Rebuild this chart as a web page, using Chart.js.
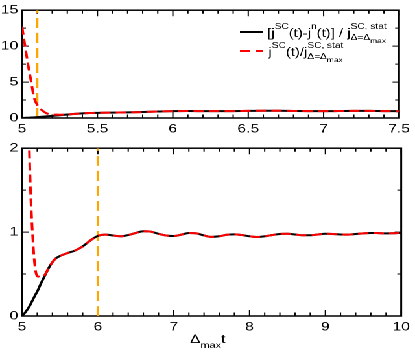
<!DOCTYPE html>
<html>
<head>
<meta charset="utf-8">
<script src="https://cdn.jsdelivr.net/npm/chart.js@4.4.0/dist/chart.umd.min.js"></script>
<style>
  html, body { margin: 0; padding: 0; background: #fff; overflow: hidden; }
  /* the original figure is stretched horizontally, so draw narrow and widen */
  #wrap { position: relative; width: 320px; height: 354px; transform: scaleX(1.297); transform-origin: 0 0; }
  .panel { position: absolute; left: 0; width: 320px; }
  #top { top: 0; height: 140px; }
  #bottom { top: 138px; height: 216px; }
</style>
</head>
<body>
<div id="wrap">
  <div class="panel" id="top"><canvas id="topChart"></canvas></div>
  <div class="panel" id="bottom"><canvas id="bottomChart"></canvas></div>
</div>
<script>
// Δmax t
const timeValues = [
  5.00, 5.02, 5.04, 5.06, 5.08, 5.10, 5.12, 5.14, 5.16, 5.18, 5.20, 5.22, 5.25,
  5.30, 5.35, 5.40, 5.45, 5.50, 5.60, 5.70, 5.80, 5.90, 6.00, 6.10, 6.20, 6.30,
  6.40, 6.50, 6.60, 6.70, 6.80, 6.90, 7.00, 7.10, 7.20, 7.30, 7.40, 7.50, 7.60,
  7.70, 7.80, 7.90, 8.00, 8.10, 8.20, 8.30, 8.40, 8.50, 8.60, 8.70, 8.80, 8.90,
  9.00, 9.10, 9.20, 9.30, 9.40, 9.50, 9.60, 9.70, 9.80, 9.90, 10.00
];
// [jSC(t) - jn(t)] / jSC,stat
const currentDiff = [
  0.00, 0.02, 0.04, 0.065, 0.09, 0.12, 0.155, 0.19, 0.225, 0.26, 0.29, 0.33, 0.39,
  0.48, 0.57, 0.64, 0.69, 0.715, 0.75, 0.78, 0.83, 0.90, 0.955, 0.97, 0.96, 0.95,
  0.965, 0.99, 1.01, 1.005, 0.98, 0.96, 0.953, 0.97, 0.99, 0.985, 0.96, 0.943, 0.95,
  0.968, 0.973, 0.965, 0.95, 0.942, 0.95, 0.965, 0.978, 0.98, 0.972, 0.962, 0.962, 0.972,
  0.98, 0.978, 0.972, 0.97, 0.977, 0.985, 0.99, 0.988, 0.985, 0.987, 0.99
];
// jSC(t) / jSC,stat
const currentRatio = [
  12.7, 10.0, 7.4, 5.1, 2.8, 1.85, 1.3, 0.95, 0.68, 0.53, 0.475, 0.47, 0.46,
  0.49, 0.57, 0.64, 0.69, 0.715, 0.75, 0.78, 0.83, 0.90, 0.955, 0.97, 0.96, 0.95,
  0.965, 0.99, 1.01, 1.005, 0.98, 0.96, 0.953, 0.97, 0.99, 0.985, 0.96, 0.943, 0.95,
  0.968, 0.973, 0.965, 0.95, 0.942, 0.95, 0.965, 0.978, 0.98, 0.972, 0.962, 0.962, 0.972,
  0.98, 0.978, 0.972, 0.97, 0.977, 0.985, 0.99, 0.988, 0.985, 0.987, 0.99
];
// vertical marker lines
const cutoffTopX = [5.1, 5.1];
const cutoffTopY = [0, 15];
const cutoffBottomX = [6, 6];
const cutoffBottomY = [0, 2];

const topXTicks = [5, 5.5, 6, 6.5, 7, 7.5];
const topYTicks = [0, 5, 10, 15];
const bottomXTicks = [5, 6, 7, 8, 9, 10];
const bottomYTicks = [0, 1, 2];

const FONT = '"Liberation Sans", Arial, Helvetica, sans-serif';

function points(xs, ys) {
  return xs.map((x, i) => ({ x: x, y: ys[i] }));
}

// frame + inward ticks on all four sides
const frameTicks = {
  id: 'frameTicks',
  beforeDatasetsDraw(chart, args, opts) {
    const { ctx, chartArea: a, scales: { x, y } } = chart;
    ctx.save();
    ctx.strokeStyle = '#000';
    ctx.lineWidth = 1;
    for (let v = x.min; v <= x.max + 1e-9; v += opts.xMinor) {
      const isMajor = Math.abs(v / opts.xMajor - Math.round(v / opts.xMajor)) < 1e-6;
      const len = isMajor ? 6 : 3.5;
      const px = x.getPixelForValue(v);
      ctx.beginPath();
      ctx.moveTo(px, a.bottom); ctx.lineTo(px, a.bottom - len);
      ctx.moveTo(px, a.top); ctx.lineTo(px, a.top + len);
      ctx.stroke();
    }
    for (let v = y.min; v <= y.max + 1e-9; v += opts.yMinor) {
      const isMajor = Math.abs(v / opts.yMajor - Math.round(v / opts.yMajor)) < 1e-6;
      const len = isMajor ? 5 : 3;
      const py = y.getPixelForValue(v);
      ctx.beginPath();
      ctx.moveTo(a.left, py); ctx.lineTo(a.left + len, py);
      ctx.moveTo(a.right, py); ctx.lineTo(a.right - len, py);
      ctx.stroke();
    }
    ctx.lineWidth = 1.5;
    ctx.strokeRect(a.left, a.top, a.right - a.left, a.bottom - a.top);
    ctx.restore();
  }
};

function drawRich(ctx, x, y, parts) {
  parts.forEach(p => {
    if (p.n) {
      ctx.font = '11.5px ' + FONT;
      ctx.fillText(p.n, x, y);
      x += ctx.measureText(p.n).width;
    } else {
      let w = 0;
      if (p.sup) {
        ctx.font = '7.8px ' + FONT;
        ctx.fillText(p.sup, x, y - 8);
        w = ctx.measureText(p.sup).width;
      }
      if (p.sub) {
        ctx.font = '7.8px ' + FONT;
        ctx.fillText(p.sub, x, y + 3);
        let sw = ctx.measureText(p.sub).width;
        if (p.subsub) {
          ctx.font = '6.5px ' + FONT;
          ctx.fillText(p.subsub, x + sw, y + 6);
          sw += ctx.measureText(p.subsub).width;
        }
        w = Math.max(w, sw);
      }
      x += w;
    }
  });
  return x;
}

const legendPlugin = {
  id: 'richLegend',
  afterDraw(chart) {
    const ctx = chart.ctx;
    ctx.save();
    ctx.fillStyle = '#000';
    ctx.textBaseline = 'alphabetic';
    ctx.strokeStyle = '#000';
    ctx.lineWidth = 2;
    ctx.beginPath(); ctx.moveTo(185, 32); ctx.lineTo(203, 32); ctx.stroke();
    drawRich(ctx, 206, 37, [
      { n: '[j' }, { sup: 'SC' }, { n: '(t)-j' }, { sup: 'n' }, { n: '(t)] / j' },
      { sup: 'SC, stat', sub: '\u0394=\u0394', subsub: 'max' }
    ]);
    ctx.strokeStyle = '#ff0000';
    ctx.setLineDash([8, 4]);
    ctx.beginPath(); ctx.moveTo(185, 51); ctx.lineTo(203, 51); ctx.stroke();
    ctx.setLineDash([]);
    drawRich(ctx, 207, 56, [
      { n: 'j' }, { sup: 'SC' }, { n: '(t)/j' },
      { sup: 'SC, stat', sub: '\u0394=\u0394', subsub: 'max' }
    ]);
    ctx.restore();
  }
};

const axisTitlePlugin = {
  id: 'axisTitle',
  afterDraw(chart) {
    const { ctx, chartArea: a } = chart;
    ctx.save();
    ctx.fillStyle = '#000';
    ctx.font = '12px ' + FONT;
    const w1 = ctx.measureText('\u0394').width;
    const w3 = ctx.measureText('t').width;
    ctx.font = '8.5px ' + FONT;
    const w2 = ctx.measureText('max').width;
    let x = (a.left + a.right) / 2 - 3 - (w1 + w2 + w3) / 2;
    const base = 205;
    ctx.font = '12px ' + FONT;
    ctx.fillText('\u0394', x, base); x += w1;
    ctx.font = '8.5px ' + FONT;
    ctx.fillText('max', x, base + 5); x += w2;
    ctx.font = '12px ' + FONT;
    ctx.fillText('t', x, base);
    ctx.restore();
  }
};

function makeChart(id, cfg) {
  const lineDefaults = { pointRadius: 0, fill: false, cubicInterpolationMode: 'monotone', clip: 0 };
  return new Chart(document.getElementById(id), {
    type: 'line',
    data: {
      datasets: [
        { ...lineDefaults, data: points(timeValues, currentRatio), borderColor: '#ff0000', borderWidth: 2, borderDash: [8, 4] },
        { ...lineDefaults, data: points(timeValues, currentDiff), borderColor: '#000000', borderWidth: 2 },
        { ...lineDefaults, data: points(cfg.cutX, cfg.cutY), borderColor: '#ffa500', borderWidth: 2, borderDash: [10, 5] }
      ]
    },
    options: {
      responsive: true,
      maintainAspectRatio: false,
      animation: false,
      devicePixelRatio: 2,
      events: [],
      layout: { padding: cfg.padding },
      plugins: {
        legend: { display: false },
        tooltip: { enabled: false },
        frameTicks: cfg.ticks
      },
      scales: {
        x: {
          type: 'linear',
          min: cfg.xMin, max: cfg.xMax,
          afterBuildTicks: s => { s.ticks = cfg.xTicks.map(v => ({ value: v })); },
          afterFit: s => { s.height = cfg.xHeight; },
          grid: { display: false, drawTicks: false },
          border: { display: false },
          ticks: {
            color: '#000', padding: 4, maxRotation: 0, autoSkip: false,
            callback: v => String(v),
            font: { family: FONT, size: 12 }
          }
        },
        y: {
          min: cfg.yMin, max: cfg.yMax,
          afterBuildTicks: s => { s.ticks = cfg.yTicks.map(v => ({ value: v })); },
          afterFit: s => { s.width = 17; },
          grid: { display: false, drawTicks: false },
          border: { display: false },
          ticks: {
            color: '#000', padding: 3, autoSkip: false,
            callback: v => String(v),
            font: { family: FONT, size: 12 }
          }
        }
      }
    },
    plugins: cfg.plugins
  });
}

makeChart('topChart', {
  cutX: cutoffTopX, cutY: cutoffTopY,
  xMin: 5, xMax: 7.5, yMin: 0, yMax: 15,
  xTicks: topXTicks, yTicks: topYTicks,
  xHeight: 22,
  padding: { top: 7, right: 9, left: 0, bottom: 0 },
  ticks: { xMinor: 0.1, xMajor: 0.5, yMinor: 2.5, yMajor: 5 },
  plugins: [frameTicks, legendPlugin]
});

makeChart('bottomChart', {
  cutX: cutoffBottomX, cutY: cutoffBottomY,
  xMin: 5, xMax: 10, yMin: 0, yMax: 2,
  xTicks: bottomXTicks, yTicks: bottomYTicks,
  xHeight: 38,
  padding: { top: 6, right: 8.5, left: 0, bottom: 0 },
  ticks: { xMinor: 0.2, xMajor: 1, yMinor: 0.5, yMajor: 1 },
  plugins: [frameTicks, axisTitlePlugin]
});
</script>
</body>
</html>
